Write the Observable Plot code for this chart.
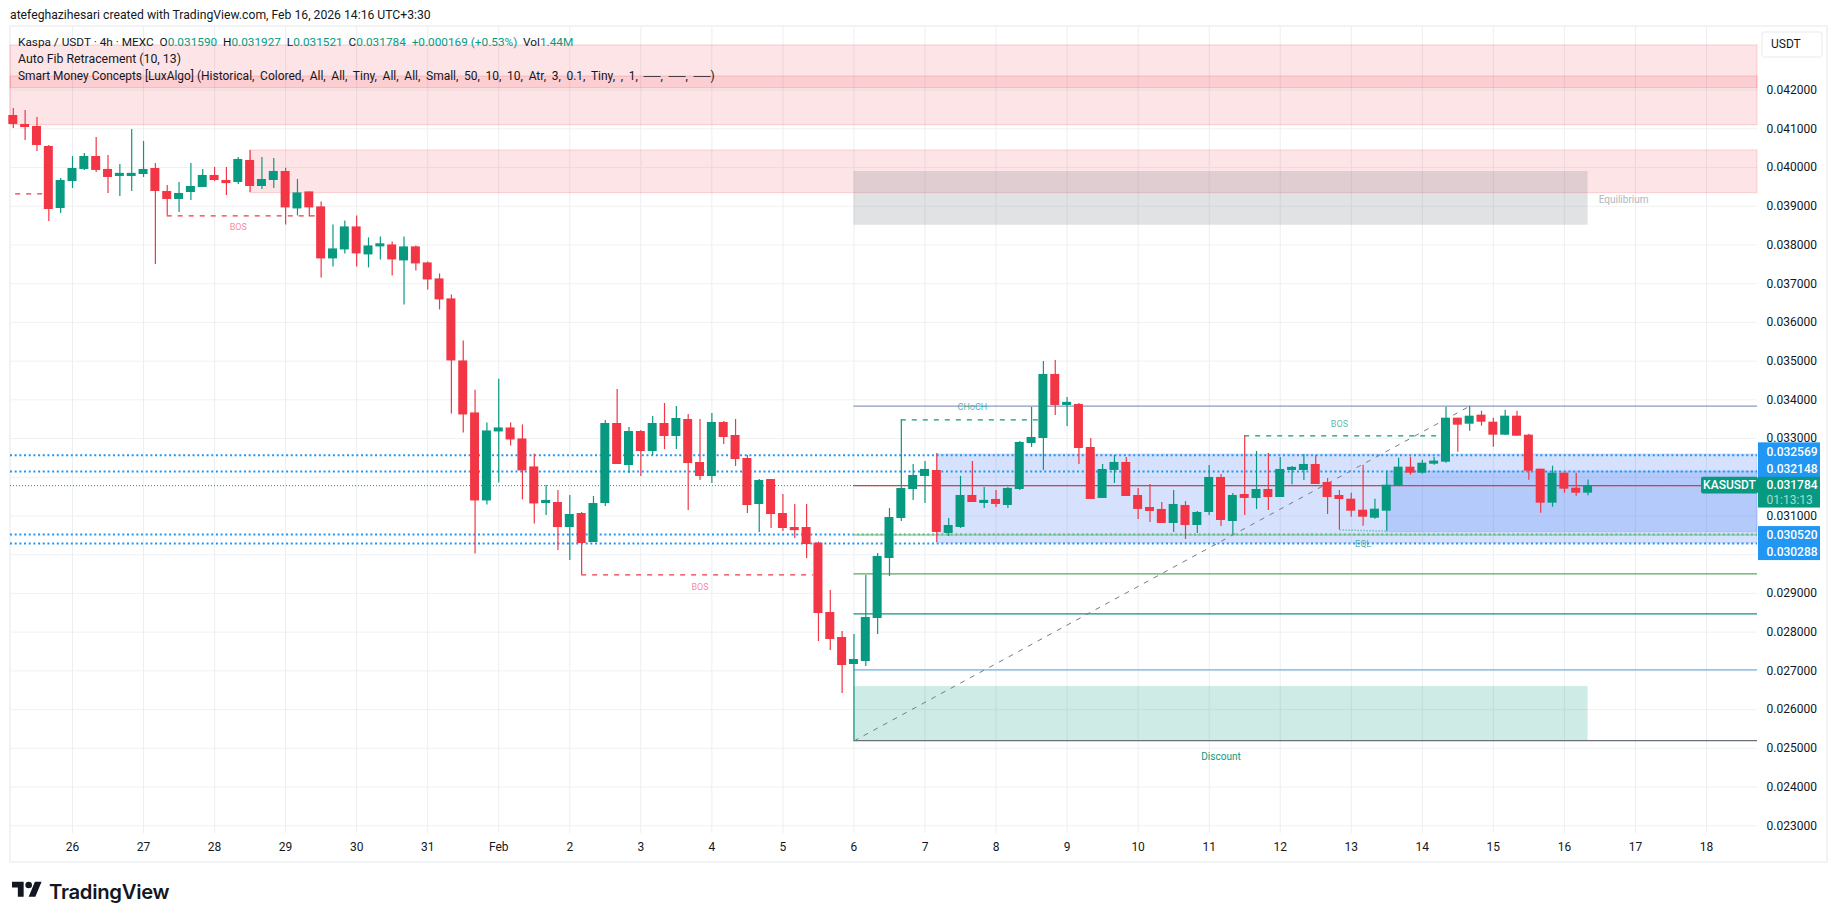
<!DOCTYPE html>
<html>
<head>
<meta charset="utf-8">
<script src="https://cdn.jsdelivr.net/npm/d3@7"></script>
<script src="https://cdn.jsdelivr.net/npm/@observablehq/plot@0.6"></script>
<style>
html,body{margin:0;padding:0;background:#fff;overflow:hidden}
#wrap{position:relative;width:1835px;height:921px;font-family:Roboto,sans-serif;color:#131722}
#frame{position:absolute;left:9px;top:25px;width:1815px;height:834px;border:2px solid #f2f3f5}
#chart{position:absolute;left:0;top:0}
.t{position:absolute;white-space:pre;line-height:16px;font-size:13px}
.g{color:#089981}
#usdt{position:absolute;left:1761px;top:31px;height:23px;border:2px solid #f3f4f6;border-radius:4px;font-size:12px;line-height:23px;padding-left:8px;box-sizing:content-box;width:50px;background:#fff}
#logo{position:absolute;left:12px;top:880px}
#tv{position:absolute;left:49px;top:878px;font-family:Inter,sans-serif;font-weight:600;font-size:20.3px;line-height:28px;color:#131722;letter-spacing:-0.3px}
</style>
</head>
<body>
<div id="wrap">
<div id="frame"></div>
<div id="chart"></div>
<div class="t" style="left:10px;top:7px;font-size:12.2px">atefeghazihesari created with TradingView.com, Feb 16, 2026 14:16 UTC+3:30</div>
<div class="t" style="left:18px;top:34px;font-size:11.8px">Kaspa / USDT · 4h · MEXC  O<span class="g">0.031590</span>  H<span class="g">0.031927</span>  L<span class="g">0.031521</span>  C<span class="g">0.031784</span>  <span class="g">+0.000169 (+0.53%)</span>  Vol<span class="g">1.44M</span></div>
<div class="t" style="left:18px;top:51px;font-size:12.3px">Auto Fib Retracement (10, 13)</div>
<div class="t" style="left:18px;top:68px;font-size:12px"><span style="font-size:11.9px">Smart Money Concepts [LuxAlgo]</span> <span style="word-spacing:2.7px">(Historical, Colored, All, All, Tiny, All, All, Small, 50, 10, 10, Atr, 3, 0.1, Tiny, , 1, ──, ──, ──)</span></div>
<div id="usdt">USDT</div>
<svg id="logo" width="30" height="20" viewBox="0 4 36 20"><path fill="#131722" d="M14 22H7V11H0V4h14v18zM28 22h-8l7.5-18h8L28 22z"/><circle fill="#131722" cx="20" cy="8" r="4"/></svg>
<div id="tv">TradingView</div>
</div>
<script>
// OHLC of the 4h candles
const open = [0.041344,0.041112,0.041060,0.040544,0.038942,0.039640,0.039950,0.040285,0.039950,0.039769,0.039769,0.039820,0.039975,0.039381,0.039175,0.039355,0.039485,0.039795,0.039665,0.039614,0.040182,0.039510,0.039665,0.039897,0.038931,0.039370,0.038983,0.037640,0.037872,0.038466,0.037743,0.037950,0.038001,0.037588,0.037950,0.037536,0.037123,0.036606,0.035005,0.033662,0.031389,0.033171,0.033274,0.032990,0.032267,0.031322,0.031348,0.030702,0.031064,0.030315,0.031322,0.033389,0.032304,0.033182,0.032665,0.033389,0.033053,0.033492,0.032381,0.032020,0.033415,0.033079,0.032485,0.031296,0.031942,0.031064,0.030702,0.030702,0.030300,0.028508,0.027862,0.027165,0.027242,0.028353,0.029903,0.030936,0.031685,0.032021,0.032176,0.030549,0.030704,0.031530,0.031324,0.031427,0.031272,0.031685,0.032873,0.033002,0.034656,0.033855,0.033881,0.032770,0.031453,0.032176,0.032383,0.031530,0.031220,0.031169,0.030807,0.031272,0.030755,0.031091,0.031995,0.030858,0.031556,0.031453,0.031685,0.031478,0.032176,0.032176,0.032331,0.031866,0.031530,0.031434,0.031150,0.030943,0.031124,0.031770,0.032261,0.032106,0.032338,0.032390,0.033526,0.033371,0.033604,0.033423,0.033087,0.033578,0.033087,0.032209,0.031331,0.032106,0.031718,0.031590];
const high = [0.041525,0.041474,0.041293,0.040570,0.039717,0.040285,0.040363,0.040776,0.040311,0.040079,0.040983,0.040673,0.040105,0.039536,0.039614,0.040105,0.039950,0.040001,0.040001,0.040260,0.040440,0.040260,0.040234,0.039983,0.039690,0.039370,0.039112,0.038518,0.038621,0.038750,0.038182,0.038208,0.038079,0.038208,0.037975,0.037562,0.037252,0.036710,0.035518,0.034248,0.033403,0.034532,0.033403,0.033352,0.032603,0.031787,0.031658,0.031529,0.031090,0.031503,0.033466,0.034267,0.033285,0.033208,0.033570,0.033905,0.033828,0.033621,0.033492,0.033647,0.033440,0.033492,0.032562,0.031942,0.031942,0.031555,0.031296,0.031296,0.030330,0.029076,0.028017,0.027940,0.029464,0.030032,0.031194,0.033480,0.032331,0.032408,0.032615,0.030936,0.032021,0.032408,0.031735,0.031659,0.031735,0.032925,0.033803,0.034991,0.035017,0.034062,0.033907,0.033002,0.032331,0.032563,0.032512,0.031711,0.031814,0.031349,0.031659,0.031375,0.031117,0.032305,0.032073,0.031582,0.033070,0.032667,0.032615,0.032512,0.032279,0.032589,0.032563,0.031969,0.031659,0.031589,0.032312,0.031434,0.032157,0.032493,0.032519,0.032442,0.032519,0.033811,0.033526,0.033836,0.033707,0.033526,0.033733,0.033707,0.033113,0.032209,0.032287,0.032106,0.032106,0.031927];
const low = [0.041009,0.040699,0.040415,0.038606,0.038813,0.039459,0.039924,0.039872,0.039330,0.039252,0.039381,0.039743,0.037496,0.038753,0.038839,0.039149,0.039485,0.039640,0.039278,0.039562,0.039355,0.039433,0.039459,0.038518,0.038750,0.038724,0.037149,0.037433,0.037769,0.037433,0.037407,0.037614,0.037200,0.036451,0.037330,0.036839,0.036322,0.033636,0.033145,0.030020,0.031286,0.031854,0.032809,0.031415,0.030795,0.031012,0.030108,0.029850,0.029480,0.030315,0.031245,0.032330,0.032097,0.032020,0.032562,0.032717,0.032717,0.031141,0.031916,0.031839,0.032846,0.032278,0.031064,0.030573,0.030677,0.030599,0.030418,0.029902,0.027759,0.027527,0.026416,0.025190,0.027113,0.027940,0.029438,0.030858,0.031401,0.031324,0.030316,0.030471,0.030678,0.031349,0.031194,0.031220,0.031194,0.031659,0.032770,0.032176,0.033597,0.033312,0.032331,0.031427,0.031453,0.031840,0.031504,0.030910,0.030833,0.030807,0.030575,0.030394,0.030549,0.031013,0.030729,0.030523,0.031013,0.031169,0.031143,0.031478,0.031806,0.031918,0.031814,0.031039,0.030640,0.030969,0.030737,0.030918,0.030608,0.031770,0.032054,0.032080,0.032312,0.032364,0.032648,0.033191,0.033320,0.032777,0.033087,0.033061,0.031925,0.031073,0.031228,0.031589,0.031512,0.031521];
const close = [0.041112,0.041034,0.040570,0.038916,0.039665,0.039975,0.040285,0.039924,0.039743,0.039795,0.039820,0.039950,0.039381,0.039175,0.039330,0.039510,0.039795,0.039665,0.039640,0.040208,0.039510,0.039691,0.039898,0.038957,0.039344,0.038957,0.037640,0.037898,0.038466,0.037769,0.037975,0.038001,0.037614,0.037950,0.037510,0.037097,0.036581,0.035005,0.033610,0.031389,0.033197,0.033274,0.032964,0.032164,0.031311,0.031348,0.030702,0.031038,0.030289,0.031322,0.033389,0.032330,0.033182,0.032665,0.033389,0.033053,0.033518,0.032355,0.032020,0.033415,0.033027,0.032459,0.031271,0.031916,0.031038,0.030677,0.030651,0.030263,0.028482,0.027811,0.027139,0.027294,0.028379,0.029955,0.030961,0.031711,0.032047,0.032202,0.030575,0.030755,0.031530,0.031349,0.031401,0.031298,0.031711,0.032899,0.033028,0.034656,0.033855,0.033932,0.032744,0.031427,0.032202,0.032383,0.031504,0.031169,0.031117,0.030807,0.031298,0.030755,0.031091,0.031995,0.030884,0.031530,0.031453,0.031685,0.031478,0.032202,0.032193,0.032331,0.031814,0.031478,0.031427,0.031124,0.030969,0.031176,0.031796,0.032261,0.032106,0.032364,0.032416,0.033526,0.033346,0.033578,0.033423,0.033087,0.033578,0.033061,0.032157,0.031331,0.032106,0.031693,0.031589,0.031784];

// time axis: one label per day, six 4h candles per day
const dayLabels = ["26","27","28","29","30","31","Feb","2","3","4","5","6","7","8","9","10","11","12","13","14","15","16","17","18"];
const dayStart = 5, barsPerDay = 6;
const priceTicks = [0.042,0.041,0.040,0.039,0.038,0.037,0.036,0.035,0.034,0.033,0.032,0.031,0.030,0.029,0.028,0.027,0.026,0.025,0.024,0.023];
// the 0.032000 and 0.030000 labels lie under the price badges
const priceLabels = priceTicks.filter(t => t !== 0.032 && t !== 0.030);

// view window
const xDomain = [-0.236, 147.31];
const yDomain = [0.0228, 0.043642];
const xL = xDomain[0], xR = xDomain[1];

// indicator levels
const alertLevels = [0.032569,0.032148,0.030520,0.030288];
const alertNudge = [-3.4,-2.3,0.7,8.7];
const lastPrice = 0.031784, lastBar = 133;
const fibStart = {bar:71, price:0.025190}, fibEnd = {bar:123, price:0.033836};
const fibLevels = [
  {price:0.033836, color:"#8d99bf"},
  {price:0.031784, color:"#f23645"},
  {price:0.030513, color:"#86c98a"},
  {price:0.029505, color:"#5aa85e"},
  {price:0.028472, color:"#16907a"},
  {price:0.027027, color:"#6fb1e6"},
  {price:0.025198, color:"#6b6f7c"}
];
const pinkZones = [
  {x1:xL,x2:xR,top:0.043152,bottom:0.041093},
  {x1:xL,x2:xR,top:0.042351,bottom:0.042048},
  {x1:20,x2:xR,top:0.040440,bottom:0.039337}
];
const blueZones = [
  {x1:78,x2:xR,top:0.032590,bottom:0.030288},
  {x1:116,x2:xR,top:0.032148,bottom:0.030580}
];
const grayZones = [{x1:71,x2:133,top:0.039897,bottom:0.038510}];
const tealZones = [{x1:71,x2:133,top:0.026594,bottom:0.025200}];
const redBreaks = [
  {x1:0.2,x2:3,price:0.039320},
  {x1:13,x2:25.5,price:0.038753},
  {x1:48,x2:67.6,price:0.029480}
];
const greenBreaks = [
  {x1:75,x2:86.7,price:0.033480},
  {x1:104,x2:120.3,price:0.033070}
];
const smcLabels = [
  {text:"BOS",bar:19,price:0.038458,color:"#f23645",size:9,op:0.6},
  {text:"BOS",bar:58,price:0.029160,color:"#f23645",size:9,op:0.6},
  {text:"CHoCH",bar:81,price:0.033810,color:"#089981",size:9,op:0.7},
  {text:"BOS",bar:112,price:0.033370,color:"#089981",size:9,op:0.7},
  {text:"EQL",bar:114,price:0.030270,color:"#089981",size:9,op:0.7},
  {text:"Discount",bar:102,price:0.024790,color:"#089981",size:10,op:1},
  {text:"Equilibrium",bar:136,price:0.039174,color:"#b2b5be",size:10,op:1}
];

const UP = "#089981", DOWN = "#f23645";
const bars = open.map((o,i)=>({i,o,h:high[i],l:low[i],c:close[i],col:close[i]>=o?UP:DOWN}));
const dayTicks = dayLabels.map((_,k)=>dayStart+k*barsPerDay);
const fmt = d3.format(".6f");

const zone = (data,fill,op,sop) => Plot.rect(data,{x1:"x1",x2:"x2",y1:"bottom",y2:"top",fill,fillOpacity:op,stroke:fill,strokeOpacity:sop,strokeWidth:1});

const plot = Plot.plot({
  width:1835,height:921,
  marginTop:26,marginBottom:88,marginLeft:10,marginRight:78,
  x:{type:"linear",domain:xDomain,axis:null},
  y:{type:"linear",domain:yDomain,axis:null},
  style:{fontFamily:"Roboto,sans-serif",fontSize:"12px",background:"transparent",color:"#131722",overflow:"visible",maxWidth:"none"},
  marks:[
    Plot.ruleY(priceTicks,{stroke:"#f0f1f3",strokeWidth:1}),
    Plot.ruleX(dayTicks,{stroke:"#eceef1",strokeWidth:1}),
    zone(pinkZones,"#f23645",0.13,0.2),
    zone(grayZones,"#787b86",0.22,0),
    zone(tealZones,"#089981",0.2,0),
    zone(blueZones,"#2464f2",0.19,0.15),
    Plot.ruleY(alertLevels,{stroke:"#2196f3",strokeWidth:2,strokeDasharray:"2 2.68"}),
    Plot.ruleY([lastPrice],{stroke:UP,strokeWidth:1,strokeDasharray:"1 2"}),
    Plot.ruleY(fibLevels,{y:"price",x1:()=>fibStart.bar,x2:()=>xR,stroke:"color",strokeWidth:1.3}),
    Plot.ruleY([lastPrice],{x1:()=>fibStart.bar,x2:()=>xR,stroke:UP,strokeWidth:1,strokeDasharray:"1 2"}),
    Plot.link([0],{x1:()=>fibStart.bar,y1:()=>fibStart.price,x2:()=>fibEnd.bar,y2:()=>fibEnd.price,stroke:"#787b86",strokeWidth:1,strokeDasharray:"5 6"}),
    Plot.ruleY(redBreaks,{y:"price",x1:"x1",x2:"x2",stroke:DOWN,strokeWidth:1.2,strokeDasharray:"5 6"}),
    Plot.ruleY(greenBreaks,{y:"price",x1:"x1",x2:"x2",stroke:UP,strokeWidth:1.2,strokeDasharray:"5 6"}),
    Plot.link([0],{x1:()=>112,y1:()=>0.030640,x2:()=>116,y2:()=>0.030608,stroke:UP,strokeOpacity:.5,strokeWidth:1.5,strokeDasharray:"1.5 1.5"}),
    Plot.ruleX(bars,{x:"i",y1:"l",y2:"h",stroke:"col",strokeWidth:1.2}),
    Plot.rect(bars,{x1:d=>d.i-0.38,x2:d=>d.i+0.38,y1:"o",y2:d=>(Math.abs(d.c-d.o)<0.00008?d.o+0.00008*(d.c>=d.o?1:-1):d.c),fill:"col"}),
    Plot.text(smcLabels,{x:"bar",y:"price",text:"text",fill:"color",fontSize:"size",fillOpacity:"op"}),
    Plot.axisX(dayTicks,{anchor:"bottom",tickSize:0,tickPadding:9,tickFormat:(d,i)=>dayLabels[dayTicks.indexOf(d)],label:null,fill:"#131722",fontSize:12}),
    Plot.axisY(priceLabels,{anchor:"right",tickSize:0,tickPadding:9,tickFormat:fmt,textAnchor:"start",label:null,fill:"#131722",fontSize:12}),
    // price scale badges
    Plot.rect([{a:alertLevels[0],b:alertLevels[1]}],{x1:()=>xR,x2:()=>xR,y1:"a",y2:"b",insetTop:-12.4,insetBottom:-6,insetLeft:1,insetRight:-63,fill:"#2196f3"}),
    Plot.rect([{a:alertLevels[2],b:alertLevels[3]}],{x1:()=>xR,x2:()=>xR,y1:"a",y2:"b",insetTop:-8,insetBottom:-17,insetLeft:1,insetRight:-63,fill:"#2196f3"}),
    Plot.rect([0],{x1:()=>xR,x2:()=>xR,y1:()=>lastPrice,y2:()=>lastPrice,insetTop:-8.3,insetBottom:-22.4,insetLeft:1,insetRight:-63,fill:UP}),
    Plot.rect([0],{x1:()=>xR,x2:()=>xR,y1:()=>lastPrice,y2:()=>lastPrice,insetTop:-8.3,insetBottom:-8.4,insetLeft:-56,insetRight:-1,fill:UP,rx:2}),
    ...alertLevels.map((p,k)=>Plot.text([p],{x:()=>xR,y:d=>d,text:fmt,dx:9,dy:alertNudge[k],textAnchor:"start",fill:"#fff",fontSize:12,fontWeight:500})),
    Plot.text([lastPrice],{x:()=>xR,y:d=>d,text:fmt,dx:9,textAnchor:"start",fill:"#fff",fontSize:12,fontWeight:500}),
    Plot.text(["01:13:13"],{x:()=>xR,y:()=>lastPrice,dy:14.5,dx:9,textAnchor:"start",fill:"#a8dbce",fontSize:12}),
    Plot.text(["KASUSDT"],{x:()=>xR,y:()=>lastPrice,dx:-28,textAnchor:"middle",fill:"#fff",fontSize:12,fontWeight:500})
  ]
});
document.getElementById("chart").append(plot);
</script>
</body>
</html>
